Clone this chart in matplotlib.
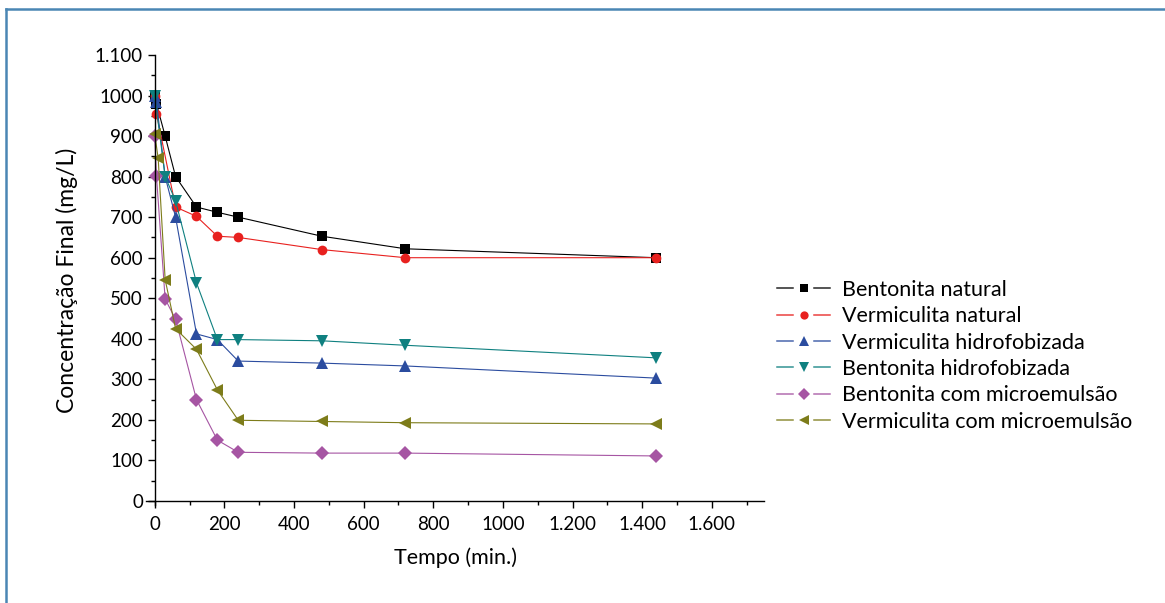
import matplotlib
matplotlib.use("Agg")
import matplotlib.pyplot as plt
from matplotlib.lines import Line2D
from matplotlib.legend_handler import HandlerBase

plt.rcParams['font.family'] = ['Lato', 'DejaVu Sans']

# ---- data ----
t_bent_nat = [0, 5, 30, 60, 120, 180, 240, 480, 720, 1440]
c_bent_nat = [1000, 980, 900, 800, 725, 712, 700, 653, 622, 600]

t_verm_nat = [0, 5, 60, 120, 180, 240, 480, 720, 1440]
c_verm_nat = [1000, 955, 725, 702, 653, 650, 620, 600, 600]

t_verm_hid = [0, 5, 30, 60, 120, 180, 240, 480, 720, 1440]
c_verm_hid = [1000, 985, 800, 700, 412, 398, 345, 340, 333, 303]

t_bent_hid = [0, 30, 60, 120, 180, 240, 480, 720, 1440]
c_bent_hid = [1000, 800, 740, 538, 398, 398, 395, 384, 353]

t_bent_micro = [0, 5, 30, 60, 120, 180, 240, 480, 720, 1440]
c_bent_micro = [900, 802, 498, 448, 250, 150, 120, 118, 118, 111]

t_verm_micro = [0, 10, 30, 60, 120, 180, 240, 480, 720, 1440]
c_verm_micro = [905, 845, 546, 425, 374, 274, 199, 196, 193, 190]

labels = ["Bentonita natural", "Vermiculita natural", "Vermiculita hidrofobizada",
          "Bentonita hidrofobizada", "Bentonita com microemulsão",
          "Vermiculita com microemulsão"]

xticks = [0, 200, 400, 600, 800, 1000, 1200, 1400, 1600]
xticklabels = ["0", "200", "400", "600", "800", "1000", "1.200", "1.400", "1.600"]
yticks = [0, 100, 200, 300, 400, 500, 600, 700, 800, 900, 1000, 1100]
yticklabels = ["0", "100", "200", "300", "400", "500", "600", "700", "800", "900", "1000", "1.100"]


class SplitLineHandler(HandlerBase):
    """Legend handle: line - marker - line, with gaps around the marker."""

    def create_artists(self, legend, orig, xdescent, ydescent, width, height,
                       fontsize, trans):
        y = height / 2 - ydescent
        x0 = -xdescent
        x1 = x0 + width
        cx = x0 + width / 2
        gap = width * 0.2
        col = orig.get_color()
        l1 = Line2D([x0, cx - gap], [y, y], color=col, linewidth=1.1, alpha=0.85)
        l2 = Line2D([cx + gap, x1], [y, y], color=col, linewidth=1.1, alpha=0.85)
        mk = Line2D([cx], [y], color=col, marker=orig.get_marker(),
                    markersize=orig.get_markersize() * 0.85, markeredgewidth=0,
                    linestyle='none')
        for a in (l1, l2, mk):
            a.set_transform(trans)
        return [l1, l2, mk]


# ---- figure ----
W, H = 1165, 603
fig = plt.figure(figsize=(W / 100, H / 100), dpi=100)
ax = fig.add_axes([146 / W, (H - 505) / H, 618 / W, 450 / H])

series = [
    (t_bent_nat, c_bent_nat, '#000000', 's', 6.5),
    (t_verm_nat, c_verm_nat, '#e8211f', 'o', 7),
    (t_verm_hid, c_verm_hid, '#2b4c9f', '^', 9),
    (t_bent_hid, c_bent_hid, '#0f8080', 'v', 9),
    (t_bent_micro, c_bent_micro, '#a655a3', 'D', 7),
    (t_verm_micro, c_verm_micro, '#7d7c1a', '<', 9),
]
handles = []
for (t, c, col, m, ms), lab in zip(series, labels):
    ln, = ax.plot(t, c, color=col, marker=m, markersize=ms, linewidth=0.8,
                  markeredgewidth=0, label=lab)
    handles.append(ln)

ax.set_xlim(-25, 1750)
ax.set_ylim(-10, 1100)

for s in ['top', 'right']:
    ax.spines[s].set_visible(False)
ax.spines['left'].set_position(('data', 0))
ax.spines['bottom'].set_position(('data', 0))
ax.spines['left'].set_linewidth(1.0)
ax.spines['bottom'].set_linewidth(1.0)

ax.set_xticks(xticks)
ax.set_xticklabels(xticklabels)
ax.set_yticks(yticks)
ax.set_yticklabels(yticklabels)
ax.set_xticks(range(100, 1800, 200), minor=True)
ax.set_yticks(range(50, 1100, 100), minor=True)
ax.tick_params(which='major', direction='out', length=5, width=1.0, labelsize=13.5)
ax.tick_params(which='minor', direction='out', length=3, width=1.0)
ax.tick_params(axis='x', pad=6)

ax.set_xlabel("Tempo (min.)", fontsize=15.5, labelpad=10)
ax.set_ylabel("Concentração Final (mg/L)", fontsize=16.5, labelpad=12)

leg = fig.legend(handles, labels, loc='upper left',
                 bbox_to_anchor=(768 / W, (H - 271) / H),
                 handler_map={Line2D: SplitLineHandler()},
                 frameon=False, fontsize=15.5, handlelength=2.5,
                 labelspacing=0.3, handletextpad=0.55, borderaxespad=0)

# blue frame (left and top)
fig.add_artist(Line2D([6 / W, 6 / W], [0, (H - 9) / H], transform=fig.transFigure,
                      color='#4a86b4', linewidth=1.8))
fig.add_artist(Line2D([6 / W, 1], [(H - 9) / H, (H - 9) / H], transform=fig.transFigure,
                      color='#4a86b4', linewidth=1.8))

fig.savefig("out.png", dpi=100)
